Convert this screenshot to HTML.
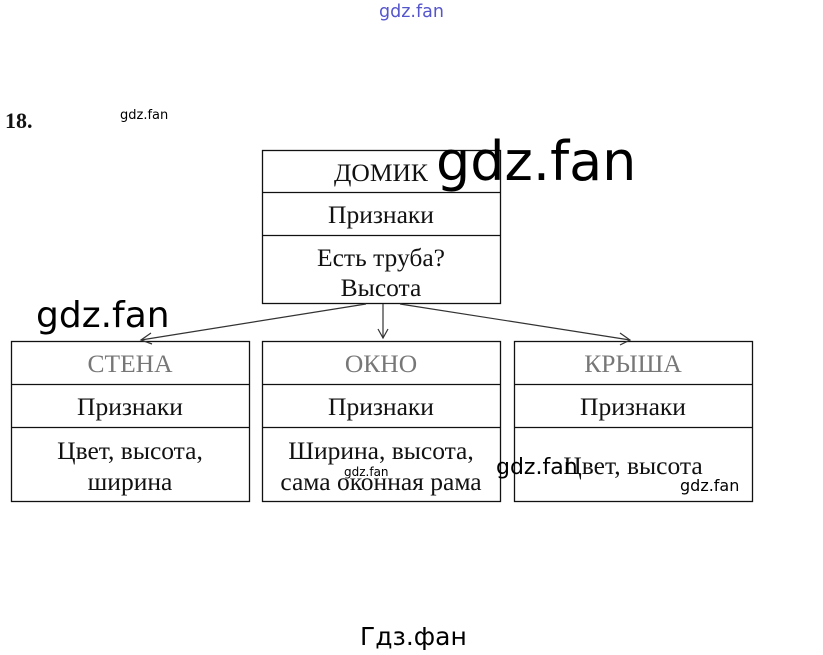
<!DOCTYPE html>
<html><head><meta charset="utf-8"><style>
html,body{margin:0;padding:0;background:#fff;}
svg{display:block;}
.s{font-family:"Liberation Serif","DejaVu Serif",serif;font-size:25.5px;fill:#111;text-anchor:middle;}
.g{font-family:"DejaVu Sans","Liberation Sans",sans-serif;fill:#000;}
</style></head><body>
<svg width="823" height="655" viewBox="0 0 823 655" xmlns="http://www.w3.org/2000/svg">
<g fill="none" stroke="#111" stroke-width="1.3">
<rect x="262.5" y="150.5" width="238" height="153"/>
<line x1="262" y1="192.5" x2="500" y2="192.5"/>
<line x1="262" y1="235.5" x2="500" y2="235.5"/>
<rect x="11.5" y="341.5" width="238" height="160"/>
<line x1="11" y1="384.5" x2="249" y2="384.5"/>
<line x1="11" y1="427.5" x2="249" y2="427.5"/>
<rect x="262.5" y="341.5" width="238" height="160"/>
<line x1="262" y1="384.5" x2="500" y2="384.5"/>
<line x1="262" y1="427.5" x2="500" y2="427.5"/>
<rect x="514.5" y="341.5" width="238" height="160"/>
<line x1="514" y1="384.5" x2="752" y2="384.5"/>
<line x1="514" y1="427.5" x2="752" y2="427.5"/>
</g>
<g fill="none" stroke="#333" stroke-width="1.2">
<line x1="366" y1="304" x2="141" y2="340"/>
<polyline points="151,333 141,340 152,344"/>
<line x1="383" y1="304" x2="383" y2="338"/>
<polyline points="378,329 383,338 388,329"/>
<line x1="400" y1="304" x2="630" y2="340"/>
<polyline points="620,333 630,340 620,345"/>
</g>
<text class="s" x="381" y="181">ДОМИК</text>
<text class="s" x="381" y="223">Признаки</text>
<text class="s" x="381" y="266">Есть труба?</text>
<text class="s" x="381" y="296">Высота</text>
<text class="s" x="130" y="372" style="fill:#777">СТЕНА</text>
<text class="s" x="381" y="372" style="fill:#777">ОКНО</text>
<text class="s" x="633" y="372" style="fill:#777">КРЫША</text>
<text class="s" x="130" y="415">Признаки</text>
<text class="s" x="381" y="415">Признаки</text>
<text class="s" x="633" y="415">Признаки</text>
<text class="s" x="130" y="459">Цвет, высота,</text>
<text class="s" x="130" y="490">ширина</text>
<text class="s" x="381" y="459">Ширина, высота,</text>
<text class="s" x="381" y="490">сама оконная рама</text>
<text class="s" x="633" y="474">Цвет, высота</text>
<text x="5" y="128" style="font-family:'Liberation Serif',serif;font-weight:bold;font-size:22px;fill:#111">18.</text>
<text class="g" x="120" y="119" font-size="13">gdz.fan</text>
<text class="g" x="379" y="17" font-size="17.5" style="fill:#5555cc">gdz.fan</text>
<text class="g" x="436" y="180" font-size="54">gdz.fan</text>
<text class="g" x="36" y="327" font-size="36">gdz.fan</text>
<text class="g" x="344" y="476" font-size="12">gdz.fan</text>
<text class="g" x="496" y="474" font-size="22">gdz.fan</text>
<text class="g" x="680" y="491" font-size="16">gdz.fan</text>
<text class="g" x="360" y="645" font-size="25">Гдз.фан</text>
</svg>
</body></html>
